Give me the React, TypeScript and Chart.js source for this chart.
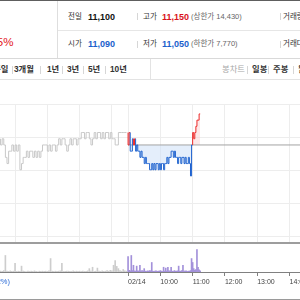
import React, { useEffect, useRef } from "react";
import { Chart, registerables } from "chart.js";

Chart.register(...registerables);

// ---------- data ----------
const PREV_CLOSE = 11100;
const PRICE_MIN = 10942;
const PRICE_MAX = 11166;
const X_MIN = -238; // minutes relative to 02/14 09:00 (previous session compressed before it)
const X_MAX = 319.5;
const VOL_MAX = 10000;

const PREV_START = -237;
const PREV_STEP = 3;
const prevDayPrices = [
  11110, 11100, 11110, 11100, 11080, 11070, 11090, 11090, 11100, 11090,
  11100, 11090, 11100, 11060, 11070, 11080, 11080, 11090, 11080, 11090,
  11090, 11080, 11090, 11080, 11090, 11080, 11090, 11100, 11100, 11100,
  11090, 11100, 11090, 11100, 11100, 11090, 11100, 11110, 11100, 11110,
  11110, 11100, 11090, 11100, 11110, 11100, 11110, 11110, 11100, 11110,
  11110, 11120, 11120, 11110, 11120, 11120, 11110, 11100, 11110, 11120,
  11110, 11120, 11120, 11110, 11120, 11110, 11120, 11120, 11110, 11120,
  11110, 11110, 11100, 11100, 11120, 11120, 11120, 11120, 11120,
];
const prevDayVolumes = [
  300, 200, 500, 5900, 300, 200, 400, 200, 300, 3100,
  200, 300, 200, 2100, 300, 200, 100, 300, 200, 300,
  200, 400, 200, 100, 300, 200, 300, 200, 300, 200,
  400, 4800, 300, 200, 300, 200, 300, 400, 3100, 200,
  200, 300, 300, 200, 200, 400, 200, 300, 200, 300,
  200, 300, 200, 200, 400, 1200, 300, 1700, 200, 300,
  1400, 300, 200, 400, 200, 300, 500, 300, 600, 400,
  2400, 4100, 2000, 1200, 500, 300, 900, 400, 300,
];

const TODAY_STEP = 2;
const todayPrices = [
  11120, 11100, 11120, 11090, 11090, 11110, 11100, 11110, 11090, 11100,
  11090, 11090, 11080, 11090, 11080, 11080, 11070, 11080, 11070, 11070,
  11070, 11060, 11060, 11070, 11060, 11070, 11060, 11070, 11070, 11060,
  11070, 11060, 11070, 11070, 11060, 11070, 11070, 11080, 11070, 11080,
  11080, 11090, 11090, 11080, 11090, 11080, 11080, 11070, 11080, 11080,
  11070, 11080, 11080, 11070, 11080, 11070, 11070, 11080, 11070, 11050,
  11100, 11120, 11110, 11120, 11130, 11140, 11140, 11150,
];
const todayVolumes = [
  5500, 600, 400, 5900, 500, 2400, 400, 300, 2100, 400,
  300, 2400, 300, 500, 300, 1200, 300, 200, 400, 300,
  500, 400, 3400, 300, 200, 300, 400, 200, 300, 300,
  500, 300, 200, 1700, 300, 1400, 300, 1700, 400, 300,
  1700, 300, 200, 500, 300, 300, 400, 2100, 300, 300,
  500, 2400, 300, 300, 400, 200, 300, 300, 500, 4800,
  3400, 1200, 600, 900, 8000, 1700, 800, 400,
];

const gridTimes = [-210, -150, -90, -30, 0, 60, 120, 180, 240, 300];
const labelTimes = [0, 60, 120, 180, 240, 300];
const timeLabels = ["02/14", "10:00", "11:00", "12:00", "13:00", "14:00"];
const gridRows = [0, 1, 2, 3, 4];
const PANE_ROWS = 4.212;

// ---------- colours ----------
const RED = "#ec2b2b";
const BLUE = "#1f63cf";
const PINK = "rgba(250, 205, 205, 0.45)";
const LIGHTBLUE = "rgba(205, 224, 247, 0.55)";
const FONT = '"Liberation Sans", "Noto Sans CJK KR", sans-serif';

function T(props: any) {
  const { x, right, y, size = 8, color = "#333", bold = false, children } = props;
  const lh = Math.round(size * 1.6);
  const style: any = {
    position: "absolute",
    top: y - lh / 2,
    height: lh,
    lineHeight: lh + "px",
    fontSize: size,
    color,
    fontWeight: bold ? 700 : 400,
    whiteSpace: "nowrap",
    fontFamily: FONT,
  };
  if (right !== undefined) style.right = 300 - right;
  else style.left = x;
  return <div style={style}>{children}</div>;
}

function Sep(props: any) {
  const { x, y, h = 8, color = "#d6d6d6" } = props;
  return (
    <div style={{ position: "absolute", left: x, top: y - h / 2, width: 1, height: h, background: color }} />
  );
}

function Line(props: any) {
  const { x = 0, y, w = 300, h = 1, color } = props;
  return <div style={{ position: "absolute", left: x, top: y, width: w, height: h, background: color }} />;
}

export default function App() {
  const priceRef = useRef<HTMLCanvasElement>(null);
  const volRef = useRef<HTMLCanvasElement>(null);

  useEffect(() => {
    const prevPts = prevDayPrices.map((v, i) => ({ x: PREV_START + i * PREV_STEP, y: v }));
    const todayPts = todayPrices.map((v, i) => ({ x: i * TODAY_STEP, y: v }));
    const price = new Chart(priceRef.current as HTMLCanvasElement, {
      type: "line",
      data: {
        datasets: [
          {
            label: "today",
            data: todayPts,
            borderWidth: 1,
            pointRadius: 0,
            stepped: "after",
            borderColor: BLUE,
            segment: {
              borderColor: (ctx: any) =>
                Math.max(ctx.p0.parsed.y, ctx.p1.parsed.y) > PREV_CLOSE &&
                Math.min(ctx.p0.parsed.y, ctx.p1.parsed.y) >= PREV_CLOSE
                  ? RED
                  : BLUE,
            },
            fill: { target: { value: PREV_CLOSE }, above: PINK, below: LIGHTBLUE },
            order: 0,
          } as any,
          {
            label: "prevClose",
            data: [
              { x: 0, y: PREV_CLOSE },
              { x: X_MAX, y: PREV_CLOSE },
            ],
            borderWidth: 1,
            pointRadius: 0,
            borderColor: "#a3a3a3",
            fill: false,
            order: 1,
          },
          {
            label: "prev",
            data: prevPts,
            borderWidth: 1,
            pointRadius: 0,
            stepped: "after",
            borderColor: "#c8c8c8",
            fill: false,
            order: 2,
          } as any,
        ],
      },
      options: {
        animation: false,
        responsive: false,
        events: [],
        layout: { padding: { top: 4, bottom: 3, left: 0, right: 0 } },
        plugins: {
          legend: { display: false },
          tooltip: { enabled: false },
          filler: { drawTime: "beforeDatasetsDraw" },
        } as any,
        scales: {
          x: {
            type: "linear",
            min: X_MIN,
            max: X_MAX,
            afterBuildTicks: (a: any) => {
              a.ticks = gridTimes.map((v) => ({ value: v }));
            },
            ticks: { display: false },
            grid: { color: "#ededed", drawTicks: false },
            border: { color: "#9d9d9d", width: 2 },
            afterFit: (s: any) => {
              s.height = 0;
              s.paddingLeft = 0;
              s.paddingRight = 0;
            },
          },
          y: { display: false, min: PRICE_MIN, max: PRICE_MAX },
          g: {
            type: "linear",
            position: "left",
            min: 0,
            max: PANE_ROWS,
            reverse: true,
            afterBuildTicks: (a: any) => {
              a.ticks = gridRows.map((v) => ({ value: v }));
            },
            ticks: { display: false },
            grid: { color: "#ededed", drawTicks: false },
            border: { display: false },
            afterFit: (s: any) => {
              s.width = 0;
            },
          },
        } as any,
      },
    });

    const prevVol = prevDayVolumes.map((v, i) => ({ x: PREV_START + i * PREV_STEP, y: v }));
    const todayVol = todayVolumes.map((v, i) => ({ x: i * TODAY_STEP, y: v }));
    const vol = new Chart(volRef.current as HTMLCanvasElement, {
      type: "bar",
      data: {
        datasets: [
          { data: prevVol, backgroundColor: "#cdcdcd", barThickness: 1, grouped: false } as any,
          { data: todayVol, backgroundColor: "#a391da", barThickness: 1, grouped: false } as any,
        ],
      },
      options: {
        animation: false,
        responsive: false,
        events: [],
        layout: { padding: 0 },
        plugins: { legend: { display: false }, tooltip: { enabled: false } },
        scales: {
          x: {
            type: "linear",
            min: X_MIN,
            max: X_MAX,
            offset: false,
            afterBuildTicks: (a: any) => {
              a.ticks = labelTimes.map((v) => ({ value: v }));
            },
            ticks: {
              display: true,
              align: "start",
              autoSkip: false,
              maxRotation: 0,
              padding: 2,
              color: "#444",
              font: { size: 7, family: FONT },
              callback: (v: any) => {
                const i = labelTimes.indexOf(Number(v));
                return i >= 0 ? timeLabels[i] : "";
              },
            },
            grid: { drawOnChartArea: false, drawTicks: true, tickLength: 4, color: "#808080", offset: false },
            border: { color: "#808080", width: 1 },
            afterFit: (s: any) => {
              s.height = 22;
              s.paddingLeft = 0;
              s.paddingRight = 0;
            },
          },
          y: { display: false, min: 0, max: VOL_MAX },
        } as any,
      },
    });

    return () => {
      price.destroy();
      vol.destroy();
    };
  }, []);

  return (
    <div
      style={{
        position: "fixed",
        left: 0,
        top: 0,
        width: 300,
        height: 300,
        overflow: "hidden",
        background: "#fff",
        fontFamily: FONT,
      }}
    >
      {/* header */}
      <Line y={0} h={1} color="#5e5e5e" />
      <Line x={57} y={1} w={1} h={57} color="#dedede" />
      <Line x={58} y={30} w={242} h={1} color="#e6e6e6" />
      <Line y={58} h={1} color="#d9d9d9" />
      <T right={13.5} y={42} size={11.5} color="#e3161b">+0.45%</T>

      <T x={68} y={16.5} size={7.5} color="#333">전일</T>
      <T x={88} y={16.5} size={9} bold color="#111">11,100</T>
      <Sep x={137} y={16.5} h={7} />
      <T x={143} y={16.5} size={7.5} color="#333">고가</T>
      <T x={162} y={16.5} size={9} bold color="#d9121b">11,150</T>
      <T x={191} y={16.5} size={7.5} color="#666">(상한가 14,430)</T>
      <Sep x={280} y={16.5} h={7} />
      <T x={283} y={16.5} size={7.5} color="#333">거래량</T>

      <T x={68} y={44} size={7.5} color="#333">시가</T>
      <T x={88} y={44} size={9} bold color="#1b5fcc">11,090</T>
      <Sep x={137} y={44} h={7} />
      <T x={143} y={44} size={7.5} color="#333">저가</T>
      <T x={162} y={44} size={9} bold color="#1b5fcc">11,050</T>
      <T x={191} y={44} size={7.5} color="#666">(하한가 7,770)</T>
      <Sep x={280} y={44} h={7} />
      <T x={283} y={44} size={7.5} color="#333">거래대금</T>

      {/* period tabs */}
      <T right={8.5} y={69.5} size={8.3} bold color="#333">1주일</T>
      <Sep x={12} y={69.5} />
      <T x={14} y={69.5} size={8.3} bold color="#333">3개월</T>
      <Sep x={40} y={69.5} />
      <T x={47} y={69.5} size={8.3} bold color="#333">1년</T>
      <Sep x={62} y={69.5} />
      <T x={67} y={69.5} size={8.3} bold color="#333">3년</T>
      <Sep x={83} y={69.5} />
      <T x={88} y={69.5} size={8.3} bold color="#333">5년</T>
      <Sep x={105} y={69.5} />
      <T x={110} y={69.5} size={8.3} bold color="#333">10년</T>
      <Line x={150} y={59} w={1} h={20} color="#e3e3e3" />
      <T x={222} y={69.5} size={8.3} color="#a8a8a8">봉차트</T>
      <Sep x={247} y={69.5} />
      <T x={252} y={69.5} size={8.3} bold color="#333">일봉</T>
      <Sep x={268} y={69.5} />
      <T x={273} y={69.5} size={8.3} bold color="#333">주봉</T>
      <Sep x={293} y={69.5} />
      <T x={298} y={69.5} size={8.3} bold color="#333">월봉</T>
      <Line y={79} h={1} color="#e3e3e3" />

      {/* charts */}
      <canvas ref={priceRef} width={300} height={146} style={{ position: "absolute", left: 0, top: 100 }} />
      <canvas ref={volRef} width={300} height={50} style={{ position: "absolute", left: 0, top: 244 }} />

      <T right={10} y={281.5} size={7.5} color="#2b6bd6">(0.12%)</T>
      <Line y={299} h={1} color="#9a9a9a" />
    </div>
  );
}
